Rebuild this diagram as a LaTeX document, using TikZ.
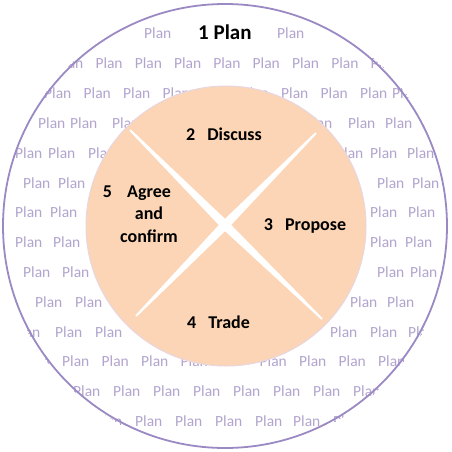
\documentclass[tikz,border=0pt]{standalone}
\usepackage{fontspec}
\setmainfont{Carlito}
\usetikzlibrary{calc}
\definecolor{ringline}{RGB}{155,137,196}
\definecolor{plantext}{RGB}{178,164,206}
\definecolor{peach}{RGB}{251,213,181}
\definecolor{peachedge}{RGB}{232,214,224}
\begin{document}
\begin{tikzpicture}[x=1pt,y=-1pt,
  bgword/.style={anchor=base west, inner sep=0pt, text=plantext, font=\fontsize{15.5}{18}\selectfont},
  titleword/.style={anchor=base west, inner sep=0pt, text=black, font=\fontsize{21}{25}\selectfont\bfseries},
  steplabel/.style={anchor=base, inner sep=0pt, text=black, font=\fontsize{18}{22.5}\selectfont\bfseries, align=center},
  crossarm/.style={fill=white, draw=none}]
\useasboundingbox[fill=white] (0,0) rectangle (451,452);
\coordinate (oc) at (225,226);
\coordinate (ic) at (226,226);
\begin{scope}
\clip (oc) circle[radius=224];
\foreach \y/\xs [count=\r] in {
  39/{144,277},
  68.8/{56,95.3,134.6,173.9,213.2,252.5,291.8,331.1,370.4},
  98.6/{44,83.5,123,162.5,202,241.5,281,320.5,360,392},
  128.4/{38,70,112,305,348,385},
  158.2/{15,48,88,336,370,407},
  188/{23,58,333,377,412},
  217.8/{15,50,370,408},
  247.6/{15,53,370,405},
  277.4/{23,62,330,377,410},
  307.2/{35,75,350,387},
  337/{13,55,95,330,370,408},
  366.8/{22.5,62,101.5,141,180.5,259.5,299,338.5,378},
  396.6/{33,73,113,153,193,233,273,313,353,393},
  426.4/{95,135,175,215,255,293,333}}{
  \foreach \x [count=\c] in \xs {
    \node[bgword] (w\r-\c) at (\x,\y) {Plan};
  }
}
\end{scope}
\node[titleword] (title) at (198,40) {1 Plan};
\draw[ringline, line width=1.8pt] (oc) circle[radius=222];
\fill[peach] (ic) circle[radius=140];
\draw[peachedge, line width=1pt] (ic) circle[radius=140];
% white cross
\coordinate (xc) at (225,225);
\coordinate (e1) at (130,130);
\coordinate (e2) at (316,133);
\coordinate (e3) at (136,316);
\coordinate (e4) at (322,319);
\foreach \e in {e1,e2,e3,e4}{
  \fill[crossarm] ($(xc)!4.5pt!90:(\e)$) -- ($(\e)!1pt!-90:(xc)$) -- ($(\e)!1pt!90:(xc)$) -- ($(xc)!4.5pt!-90:(\e)$) -- cycle;
}
\node[steplabel] (discuss) at (224,140) {2\hspace{12pt}Discuss};
\node[steplabel] (propose) at (305,230) {3\hspace{12pt}Propose};
\node[steplabel] (trade) at (218.5,328) {4\hspace{12pt}Trade};
\node[steplabel] (agree) at (149,242) {\llap{5\hspace{15pt}}Agree\\and\\confirm};
\end{tikzpicture}
\end{document}
